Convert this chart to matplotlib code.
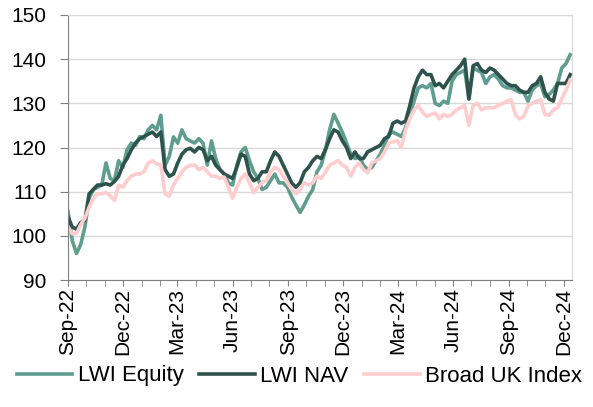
import matplotlib
matplotlib.use('Agg')
import matplotlib.pyplot as plt
import matplotlib.dates as mdates
import pandas as pd

plt.rcParams['font.family'] = ['Liberation Sans', 'DejaVu Sans']

# weekly points, rebased to 100
dates = pd.date_range('2022-09-01', periods=120, freq='7D')

lwi_equity = [
    105.5, 99, 96, 98, 102, 108.5, 110.5, 111, 111.5, 116.5, 113, 112.5, 117, 115.5, 119.5, 121,
    120.5, 122.5, 122, 124, 125, 124, 127.3, 116, 118, 122.4, 121, 124, 122, 121.5, 121,
    122, 121, 116, 121.5, 117.5, 115, 114, 112, 111.5, 116, 119, 120, 117, 114.5, 113, 110.5,
    111, 112.5, 114, 112, 112, 111, 108.8, 107, 105.3, 107, 109, 110.5, 114.5,
    116, 119.5, 124, 127.5, 125.5, 123.5, 121, 118.5, 117.5, 118, 116, 115, 115.5, 117, 118.5,
    120.5, 123, 123.5, 123, 122.5, 124.5, 127.5, 130.5, 133.5, 134, 133.5, 134.5, 130, 129.5, 130.5,
    130, 135, 136.5, 137, 137.5, 131, 138, 137.5, 137, 134.5, 136, 136.5, 135.5, 134, 133.5,
    133.5, 133, 132.5, 132.5, 130.5, 133, 134, 134.5, 131.5, 132, 133, 134.5, 138, 139, 141,
]

lwi_nav = [
    104.3, 102, 101.5, 103, 103.5, 109.5, 110.5, 111.5, 111.5, 111.8, 111.5, 112.3, 113.5, 116, 117.5,
    119.5, 121, 122, 122.5, 123, 123.5, 122.5, 123.5, 115, 113.5, 114, 116.5, 118.5, 119.5, 119.8, 119,
    120, 119.5, 117, 118, 116, 115, 114, 113.5, 113, 115.5, 118.5, 118, 114, 112.5, 113, 114.5,
    114.5, 117, 119, 118, 116, 114, 112, 111, 112, 114.5, 115.5, 117, 118,
    117.5, 119.5, 122, 124, 123.5, 121.5, 120, 117.5, 119, 117.5, 117.5, 119, 119.5, 120, 120.5,
    122, 122.5, 125.5, 126, 125.5, 126, 129.5, 133.5, 136, 137.5, 136.5, 136.5, 134, 134.5, 133.5,
    135, 136.5, 137.5, 138.5, 140, 131, 138.5, 139, 137.5, 137, 138, 137.5, 136.5, 135.5, 134.5,
    134, 134, 133, 132.5, 132.5, 134, 134.5, 136, 132.5, 131, 130.5, 134.5, 134.5, 134.5, 136.5,
]

broad_uk = [
    102, 100.5, 100.5, 102.5, 104, 106.5, 108.5, 109.5, 109.5, 109.8, 109, 108, 111.5, 111, 112.5,
    113.5, 114, 114, 114.5, 116.5, 117, 116.3, 116, 109.5, 109, 111.5, 113, 114.5, 115.5, 116, 116,
    115, 115.5, 114.5, 113.5, 113.5, 113, 113.3, 111, 108.5, 111, 113, 114, 112, 109.8, 111, 112,
    112.5, 114.5, 115.5, 115, 113.5, 112, 110.5, 109.5, 110.5, 112, 111.5, 112, 113.5,
    113, 114.5, 116, 116.5, 117, 116, 115.5, 113.5, 115.5, 116.5, 115, 114.3, 116.5, 117, 117.5,
    119, 121, 121.3, 121.5, 120, 124, 126.5, 128.5, 129.5, 128, 127, 127.5, 127.8, 126.5, 127.5,
    127, 127.5, 128.5, 129, 129.5, 125, 129.5, 130, 128.5, 129, 129, 129, 129.5, 130, 130.5,
    130.8, 127.5, 126.5, 127, 129.5, 130, 130.5, 130.8, 127.5, 127.3, 128.5, 129, 131, 133, 135.3,
]

fig = plt.figure(figsize=(5.93, 4.07), dpi=100)
ax = fig.add_axes([68 / 593, 127 / 407, 504 / 593, 265 / 407])

ax.plot(dates, lwi_equity, color='#5f9d8f', lw=2.6, label='LWI Equity')
ax.plot(dates, lwi_nav, color='#2e524c', lw=2.6, label='LWI NAV')
ax.plot(dates, broad_uk, color='#ffcdcd', lw=2.6, label='Broad UK Index')

ax.set_ylim(90, 150)
ax.set_yticks(range(90, 151, 10))
ax.set_xlim(pd.Timestamp('2022-09-01'), pd.Timestamp('2024-12-15'))
ax.xaxis.set_major_locator(mdates.MonthLocator(bymonth=[3, 6, 9, 12]))
ax.xaxis.set_minor_locator(mdates.MonthLocator())
ax.xaxis.set_major_formatter(mdates.DateFormatter('%b-%y'))

ax.grid(axis='y', color='#d9d9d9', lw=1)
ax.set_axisbelow(True)
for s in ['top', 'right']:
    ax.spines[s].set_color('#d9d9d9')
for s in ['left', 'bottom']:
    ax.spines[s].set_color('#808080')
ax.tick_params(axis='both', which='both', direction='out', color='#808080', labelsize=15)
ax.tick_params(axis='y', length=6, pad=9.5)
ax.tick_params(axis='x', which='both', length=4, pad=1.5)
plt.setp(ax.get_xticklabels(), rotation=90, va='top', ha='center')

fig.legend(loc='center', bbox_to_anchor=(0.505, 31 / 407), ncol=3, frameon=False, fontsize=16,
           handlelength=2.5, handletextpad=0.25, columnspacing=0.7, borderpad=0)

fig.savefig('out.png', dpi=100)
